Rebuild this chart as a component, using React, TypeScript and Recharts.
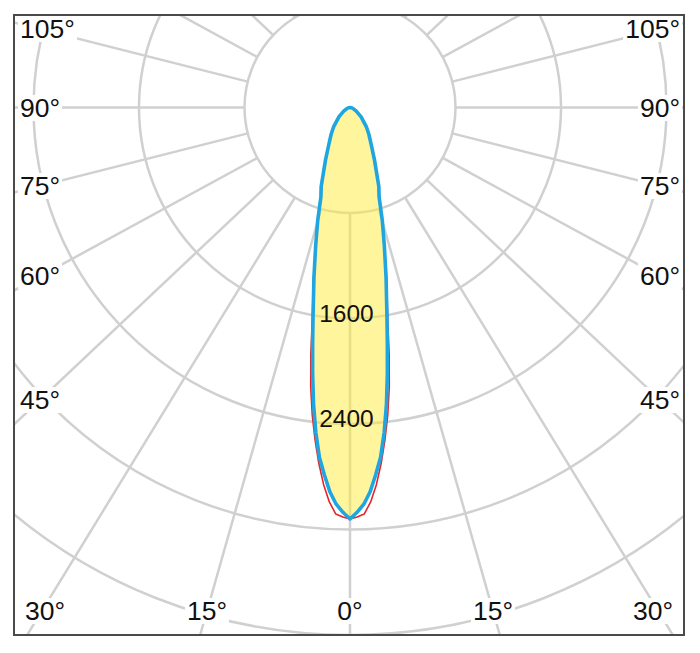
import React from 'react';
import { RadarChart, Radar, PolarGrid, PolarAngleAxis, PolarRadiusAxis } from 'recharts';

// gamma = angle from nadir (deg), intensities in cd
const gammaDeg = [0, 1, 2, 3, 4, 5, 6, 7, 8, 9, 10, 12, 14, 16, 18, 20, 25, 30, 35, 40, 50, 60, 70, 80, 90];
const planeC0 = [3120, 3105, 3085, 2995, 2867, 2710, 2535, 2349, 2140, 1900, 1650, 1335, 1060, 875, 705, 625, 430, 312, 242, 188, 105, 52, 26, 11, 0];
const planeC90 = [3120, 3070, 3010, 2918, 2792, 2663, 2478, 2268, 2036, 1810, 1614, 1315, 1075, 887, 714, 640, 440, 320, 250, 195, 110, 55, 28, 12, 0];

const radiusTicks = [1600, 2400];
const ringValues = [800, 1600, 2400, 3200, 4000, 4800, 5600, 6400];
const spokeAngles = [0, 15, 30, 45, 60, 75, 90, 105, 120, 135, 150, 165, 180, 195, 210, 225, 240, 255, 270, 285, 300, 315, 330, 345];
const sideLabels = [105, 90, 75, 60, 45];
const bottomLabels = [0, 15, 30];

// theta runs counter-clockwise from straight down: right half = gamma, left half = 360 - gamma
const lobeTable = [
  ...gammaDeg.map((g, i) => ({ theta: g, c0: planeC0[i], c90: planeC90[i] })),
  ...gammaDeg
    .map((g, i) => ({ theta: 360 - g, c0: planeC0[i], c90: planeC90[i] }))
    .filter(d => d.theta < 360)
    .reverse(),
];

// layout
const CX = 350;
const CY = 107.5;
const MAX_VALUE = 4000;
const MAX_RADIUS = 527.5;
const pxPerCd = MAX_RADIUS / MAX_VALUE;
// the spokes in the source are drawn slightly stretched sideways
const SPOKE_STRETCH = 1.06;

const frame = { left: 13, top: 14, width: 672, height: 622, border: 2 };
const plot = {
  left: frame.left + frame.border,
  top: frame.top + frame.border,
  width: frame.width - 2 * frame.border,
  height: frame.height - 2 * frame.border,
};

const FONT = "'Liberation Sans', Arial, sans-serif";
const GRID_COLOR = '#d0d0d0';

function spokeDir(theta: number) {
  const r = (theta * Math.PI) / 180;
  return { dx: SPOKE_STRETCH * Math.sin(r), dy: Math.cos(r) };
}

// recharts angle (ccw from 3 o'clock) of a spoke
function spokeToChartAngle(theta: number) {
  const { dx, dy } = spokeDir(theta);
  return (Math.atan2(-dy, dx) * 180) / Math.PI;
}

function spokeYAtX(theta: number, x: number) {
  const { dx, dy } = spokeDir(theta);
  return CY + ((x - CX) / dx) * dy;
}

function spokeXAtY(theta: number, y: number) {
  const { dx, dy } = spokeDir(theta);
  return CX + ((y - CY) / dy) * dx;
}

function AngleLabel({ text, x, y, align }: { text: string; x: number; y: number; align: 'left' | 'right' | 'center' }) {
  const tx = align === 'left' ? '0' : align === 'right' ? '-100%' : '-50%';
  return (
    <div
      style={{
        position: 'absolute',
        left: x,
        top: y,
        transform: `translate(${tx}, -50%)`,
        background: '#fff',
        padding: '0 2px',
        fontFamily: FONT,
        fontSize: 26.5,
        lineHeight: '26px',
        color: '#111',
        whiteSpace: 'nowrap',
      }}
    >
      {text}
    </div>
  );
}

function RadiusTick(props: any) {
  const { x, y, payload } = props;
  return (
    <text x={x - 3.5} y={y + 3.2} textAnchor="middle" fontFamily={FONT} fontSize={24.5} fill="#111">
      {payload.value}
    </text>
  );
}

export default function App() {
  const chartCx = CX - plot.left;
  const chartCy = CY - plot.top;
  const ringRadii = ringValues.map(v => v * pxPerCd);
  const gridAngles = spokeAngles.map(spokeToChartAngle);

  return (
    <div style={{ position: 'absolute', left: 0, top: 0, width: 700, height: 653, background: '#fff' }}>
      {/* frame */}
      <div
        style={{
          position: 'absolute',
          left: frame.left,
          top: frame.top,
          width: frame.width,
          height: frame.height,
          boxSizing: 'border-box',
          border: `${frame.border}px solid #4a4a4a`,
        }}
      />

      {/* grid: rings + spokes starting at the first ring */}
      <div style={{ position: 'absolute', left: plot.left, top: plot.top, width: plot.width, height: plot.height, overflow: 'hidden' }}>
        <RadarChart
          width={plot.width}
          height={plot.height}
          data={lobeTable}
          cx={chartCx}
          cy={chartCy}
          innerRadius={ringRadii[0]}
          outerRadius={900}
          startAngle={-90}
          endAngle={270}
          margin={{ top: 0, right: 0, bottom: 0, left: 0 }}
        >
          <PolarGrid
            gridType="circle"
            polarAngles={gridAngles}
            polarRadius={ringRadii}
            stroke={GRID_COLOR}
            strokeWidth={2.5}
          />
        </RadarChart>
      </div>

      {/* intensity curves */}
      <div style={{ position: 'absolute', left: plot.left, top: plot.top, width: plot.width, height: plot.height, overflow: 'hidden' }}>
        <RadarChart
          width={plot.width}
          height={plot.height}
          data={lobeTable}
          cx={chartCx}
          cy={chartCy}
          innerRadius={0}
          outerRadius={MAX_RADIUS}
          startAngle={-90}
          endAngle={270}
          margin={{ top: 0, right: 0, bottom: 0, left: 0 }}
        >
          <PolarAngleAxis dataKey="theta" type="number" domain={[0, 360]} tick={false} axisLine={false} />
          <PolarRadiusAxis
            angle={-90}
            type="number"
            domain={[0, MAX_VALUE]}
            ticks={radiusTicks}
            axisLine={false}
            tickLine={false}
            tick={<RadiusTick />}
          />
          <Radar
            dataKey="c0"
            stroke="#e3262d"
            strokeWidth={1.6}
            fill="none"
            dot={false}
            strokeLinejoin="round"
            isAnimationActive={false}
          />
          <Radar
            dataKey="c90"
            stroke="#1fa5e0"
            strokeWidth={3.6}
            fill="#ffeb3b"
            fillOpacity={0.5}
            dot={false}
            strokeLinejoin="round"
            isAnimationActive={false}
          />
        </RadarChart>
      </div>

      {/* angle labels */}
      {sideLabels.map(g => (
        <AngleLabel key={`l${g}`} text={`${g}°`} x={18} y={spokeYAtX(360 - g, 40)} align="left" />
      ))}
      {sideLabels.map(g => (
        <AngleLabel key={`r${g}`} text={`${g}°`} x={682} y={spokeYAtX(g, 660)} align="right" />
      ))}
      {bottomLabels.map(g => (
        <AngleLabel
          key={`bl${g}`}
          text={`${g}°`}
          x={Math.max(45, spokeXAtY(g === 0 ? 0 : 360 - g, 611))}
          y={611}
          align="center"
        />
      ))}
      {bottomLabels
        .filter(g => g !== 0)
        .map(g => (
          <AngleLabel key={`br${g}`} text={`${g}°`} x={Math.min(653, spokeXAtY(g, 611))} y={611} align="center" />
        ))}
    </div>
  );
}
